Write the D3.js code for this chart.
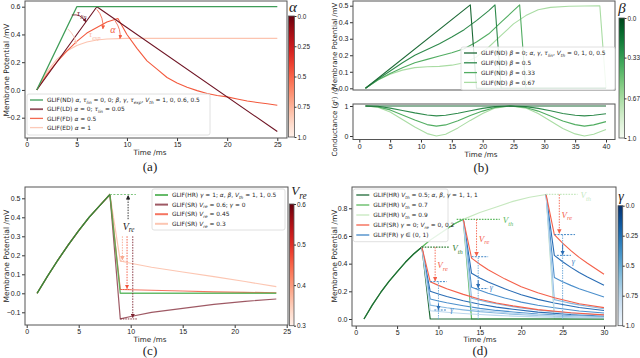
<!DOCTYPE html>
<html>
<head>
<meta charset="utf-8">
<script src="https://cdn.jsdelivr.net/npm/d3@7"></script>
<style>
  body { margin: 0; background: #fff; }
  svg { display: block; font-family: "DejaVu Sans", sans-serif; }
  .tick text { font-size: 7px; fill: #222; }
  .cb .tick text { font-size: 6.4px; }
  .tick line { stroke: #333; }
</style>
</head>
<body>
<div id="chart"></div>
<script>
// ---------- data ----------
// (a) decay variants
const aND = [[1, 0], [5, 0.6], [25, 0.6]];
const aLD = [[1, 0], [7, 0.6], [25, -0.3]];
const aFD = [[1, 0], [2, 0.11], [3, 0.2], [4, 0.28], [5, 0.35], [6, 0.41], [7, 0.45], [8, 0.49], [9.1, 0.515],
  [10, 0.4], [11, 0.3], [12, 0.21], [13, 0.15], [14, 0.09], [15, 0.05], [16, 0.02], [17, -0.005], [18, -0.025],
  [19, -0.04], [20, -0.05], [21, -0.065], [22, -0.08], [23, -0.09], [24, -0.1], [25, -0.11]];
const aED = [[1, 0], [2, 0.13], [3, 0.22], [4, 0.28], [5, 0.32], [6, 0.345], [7, 0.36], [8, 0.367], [10, 0.372], [25, 0.372]];

// (b) conductance variants, top = membrane potential, bottom = conductance
const bV0 = [[1, 0], [18, 0.505], [19, 0], [40, 0]];
const bV1 = [[1, 0], [3, 0.055], [5, 0.105], [7, 0.155], [9, 0.2], [11, 0.235], [13, 0.27], [15, 0.31], [17, 0.355],
  [19, 0.41], [21, 0.47], [22, 0.505], [23, 0], [40, 0]];
const bV2 = [[1, 0], [3, 0.05], [5, 0.09], [7, 0.125], [9, 0.155], [11, 0.175], [13, 0.195], [15, 0.215], [17, 0.24],
  [19, 0.28], [21, 0.33], [23, 0.4], [25, 0.47], [26, 0.505], [27, 0], [40, 0]];
const bV3 = [[1, 0], [3, 0.05], [5, 0.085], [7, 0.11], [9, 0.125], [11, 0.13], [13, 0.133], [15, 0.14], [17, 0.155],
  [19, 0.19], [21, 0.25], [23, 0.32], [25, 0.39], [27, 0.44], [29, 0.475], [31, 0.49], [34, 0.497], [39, 0.5], [40, 0]];
const gTimes = [1, 3, 5, 7, 9, 11, 12.5, 14, 16, 18, 20, 22, 24.5, 27, 29, 31, 33, 35, 36.5, 38, 40];
const bG0 = [1, 1, 1, 1, 1, 1, 1, 1, 1, 1, 1, 1, 1, 1, 1, 1, 1, 1, 1, 1, 1];
const bG1 = [1, 0.99, 0.93, 0.85, 0.77, 0.7, 0.67, 0.69, 0.76, 0.84, 0.92, 0.98, 1, 0.98, 0.92, 0.84, 0.75, 0.69, 0.67, 0.69, 0.74];
const bG2 = [1, 0.97, 0.87, 0.7, 0.53, 0.38, 0.33, 0.37, 0.51, 0.68, 0.83, 0.95, 1, 0.95, 0.83, 0.67, 0.5, 0.38, 0.33, 0.37, 0.48];
const bG3 = [1, 0.96, 0.8, 0.55, 0.3, 0.08, 0, 0.06, 0.27, 0.52, 0.75, 0.93, 1, 0.93, 0.75, 0.5, 0.25, 0.07, 0, 0.06, 0.22];

// (c) reset variants
const cRise = [[1, 0], [2, 0.09], [3, 0.175], [4, 0.255], [5, 0.33], [6, 0.4], [7, 0.46], [8, 0.52]];
const cHR = [[9, 0], [24, 0]];
const cSR6 = [[9, -0.135], [10, -0.122], [12, -0.1], [15, -0.079], [18, -0.058], [21, -0.042], [24, -0.03]];
const cSR45 = [[9, 0.02], [12, 0.016], [15, 0.012], [18, 0.008], [21, 0.005], [24, 0.003]];
const cSR3 = [[9, 0.17], [10, 0.158], [12, 0.137], [15, 0.112], [18, 0.088], [21, 0.062], [24, 0.035]];

// (d) threshold / reset combos
const dRise = [[1, 0], [2, 0.1], [3, 0.19], [4, 0.27], [5, 0.34], [6, 0.41], [7, 0.47], [8, 0.52], [9, 0.57],
  [10, 0.61], [11, 0.65], [12, 0.69], [13, 0.72], [15, 0.77], [17, 0.81], [19, 0.85], [21, 0.88], [23, 0.9]];
const dSpikes = [[8, 0.52], [13, 0.72], [23, 0.9]];
const dT1 = [9, 10, 11, 13, 15, 17, 19, 22, 26, 30];
const dT2 = [14, 15, 16, 18, 20, 22, 24, 27, 30];
const dT3 = [24, 25, 26, 27, 28, 30];
const dRed1 = [0.27, 0.243, 0.219, 0.178, 0.143, 0.116, 0.095, 0.068, 0.045, 0.03];
const dRed2 = [0.44, 0.396, 0.356, 0.29, 0.233, 0.189, 0.154, 0.11, 0.082];
const dRed3 = [0.61, 0.549, 0.494, 0.445, 0.403, 0.323];
const dBlue1 = [
  [0.2, 0.18, 0.162, 0.132, 0.106, 0.086, 0.07, 0.05, 0.033, 0.022],
  [0.145, 0.13, 0.117, 0.096, 0.077, 0.062, 0.051, 0.036, 0.024, 0.016],
  [0.1, 0.09, 0.081, 0.066, 0.053, 0.043, 0.035, 0.025, 0.017, 0.011],
  [0.06, 0.054, 0.049, 0.04, 0.032, 0.026, 0.021, 0.015, 0.01, 0.007]];
const dBlue2 = [
  [0.33, 0.297, 0.267, 0.218, 0.175, 0.142, 0.116, 0.083, 0.061],
  [0.23, 0.207, 0.186, 0.152, 0.122, 0.099, 0.081, 0.058, 0.043],
  [0.15, 0.135, 0.122, 0.099, 0.08, 0.065, 0.053, 0.038, 0.028],
  [0.07, 0.063, 0.057, 0.046, 0.037, 0.03, 0.025, 0.018, 0.013]];
const dBlue3 = [
  [0.46, 0.414, 0.373, 0.336, 0.304, 0.244],
  [0.3, 0.27, 0.243, 0.219, 0.198, 0.159],
  [0.14, 0.126, 0.113, 0.102, 0.092, 0.074],
  [0.05, 0.045, 0.041, 0.037, 0.033, 0.027]];
const blueShades = ['#2a6db5', '#4b8fcc', '#86b8e0', '#bcd7ee'];

const legA = ['GLIF(ND)  *α*, *τ*_lin_ = 0, 0;  *β*, *γ*, *τ*_exp_, *V*_th_ = 1, 0, 0.6, 0.5',
  'GLIF(LD)  *α* = 0;  *τ*_lin_ = 0.05', 'GLIF(FD)  *α* = 0.5', 'GLIF(ED)  *α* = 1'];
const legB = ['GLIF(ND)  *β* = 0;  *α*, *γ*, *τ*_lin_, *V*_th_ = 0, 1, 0, 0.5',
  'GLIF(ND)  *β* = 0.5', 'GLIF(ND)  *β* = 0.33', 'GLIF(ND)  *β* = 0.67'];
const legC = ['GLIF(HR)  *γ* = 1;  *α*, *β*, *V*_th_ = 1, 1, 0.5', 'GLIF(SR)  *V*_re_ = 0.6;  *γ* = 0',
  'GLIF(SR)  *V*_re_ = 0.45', 'GLIF(SR)  *V*_re_ = 0.3'];
const legD = ['GLIF(HR)  *V*_th_ = 0.5;  *α*, *β*, *γ* = 1, 1, 1', 'GLIF(HR)  *V*_th_ = 0.7', 'GLIF(HR)  *V*_th_ = 0.9',
  'GLIF(SR)  *γ* = 0;  *V*_re_ = 0, 0.2', 'GLIF(FR)  *γ* ∈ (0, 1)'];

const colA = ['#3f9d58', '#6e1424', '#f35a3e', '#fcc4b0'];
const colB = ['#1d6a37', '#2f8a4c', '#52ad62', '#a9dca3'];
const colC = ['#4caf50', '#7d2230', '#f2523a', '#fcc0aa'];
const colD = ['#1e6a36', '#5bb85e', '#c6e8bf', '#f4604a', '#3f86c6'];

// ---------- helpers ----------
const svg = d3.select('#chart').append('svg').attr('width', 640).attr('height', 358);
const defs = svg.append('defs');

function rich(text, str, fs) {
  const parts = str.split(/(\*[^*]+\*|_[^_]+_)/).filter(s => s.length);
  let sub = false;
  parts.forEach(p => {
    const ts = text.append('tspan');
    if (p[0] === '_') {
      ts.text(p.slice(1, -1)).attr('font-size', fs * 0.72).attr('dy', fs * 0.28).style('font-style', 'italic');
      sub = true;
    } else {
      ts.text(p[0] === '*' ? p.slice(1, -1) : p);
      if (p[0] === '*') ts.style('font-style', 'italic');
      if (sub) ts.attr('dy', -fs * 0.28);
      sub = false;
    }
  });
}

function axesBox(f, x, y, xt, yt, id, yfmt) {
  defs.append('clipPath').attr('id', id).append('rect')
    .attr('x', f[0]).attr('y', f[1]).attr('width', f[2] - f[0]).attr('height', f[3] - f[1]);
  if (xt) {
    svg.append('g').attr('transform', `translate(0,${f[3]})`)
      .call(d3.axisBottom(x).tickValues(xt).tickSize(3).tickPadding(1.2).tickFormat(d3.format('d')))
      .call(g => g.select('.domain').remove());
  }
  svg.append('g').attr('transform', `translate(${f[0]},0)`)
    .call(d3.axisLeft(y).tickValues(yt).tickSize(3).tickPadding(1.5).tickFormat(yfmt || d3.format('.1f')))
    .call(g => g.select('.domain').remove())
    .selectAll('text').text(d => (yfmt || d3.format('.1f'))(d).replace('-', '\u2212'));
  return svg.append('g').attr('clip-path', `url(#${id})`);
}

function frame(f) {
  svg.append('rect').attr('x', f[0]).attr('y', f[1]).attr('width', f[2] - f[0]).attr('height', f[3] - f[1])
    .attr('fill', 'none').attr('stroke', '#555').attr('stroke-width', 1);
}

function drawLine(g, pts, x, y, color, w, op) {
  g.append('path').datum(pts)
    .attr('d', d3.line().x(d => x(d[0])).y(d => y(d[1])))
    .attr('fill', 'none').attr('stroke', color).attr('stroke-width', w || 1)
    .attr('stroke-opacity', op || 1).attr('stroke-linejoin', 'round');
}

function legend(box, labels, colors, fs, rowH, widths, ops) {
  svg.append('rect').attr('x', box[0]).attr('y', box[1]).attr('width', box[2] - box[0]).attr('height', box[3] - box[1])
    .attr('rx', 2).attr('fill', '#fff').attr('fill-opacity', 0.85).attr('stroke', '#d8d8d8').attr('stroke-width', 0.8);
  labels.forEach((lab, i) => {
    const yy = box[1] + 6 + i * rowH;
    svg.append('line').attr('x1', box[0] + 3).attr('x2', box[0] + 16).attr('y1', yy).attr('y2', yy)
      .attr('stroke', colors[i]).attr('stroke-width', widths ? widths[i] : 1.3).attr('stroke-opacity', ops ? ops[i] : 1);
    const t = svg.append('text').attr('x', box[0] + 20).attr('y', yy + fs * 0.36).attr('font-size', fs).attr('fill', '#222');
    rich(t, lab, fs);
  });
}

// colorbar tick labels keep one decimal at the ends
const cbFmt = d => (d === 0 || d === 1) ? d.toFixed(1) : d3.format('.2~f')(d);

function colorbar(id, x0, y0, w, h, interp, domain, ticks, fmt) {
  const grad = defs.append('linearGradient').attr('id', id).attr('x1', 0).attr('x2', 0).attr('y1', 0).attr('y2', 1);
  d3.range(0, 1.01, 0.1).forEach(t => grad.append('stop').attr('offset', t).attr('stop-color', interp(t)));
  svg.append('rect').attr('x', x0).attr('y', y0).attr('width', w).attr('height', h)
    .attr('fill', `url(#${id})`).attr('stroke', '#555').attr('stroke-width', 0.8);
  const s = d3.scaleLinear().domain(domain).range([y0, y0 + h]);
  svg.append('g').attr('class', 'cb').attr('transform', `translate(${x0 + w},0)`)
    .call(d3.axisRight(s).tickValues(ticks).tickSize(2).tickPadding(1).tickFormat(fmt))
    .call(g => g.select('.domain').remove());
}

function label(x, y, txt, fs, rot, extra) {
  const t = svg.append('text').attr('font-size', fs).attr('fill', '#222').attr('text-anchor', 'middle')
    .attr('transform', `translate(${x},${y})${rot ? ' rotate(-90)' : ''}`);
  if (extra) extra(t);
  rich(t, txt, fs);
  return t;
}

function marker(id, color) {
  defs.append('marker').attr('id', id).attr('viewBox', '0 0 10 10').attr('refX', 9).attr('refY', 5)
    .attr('markerWidth', 5).attr('markerHeight', 5).attr('orient', 'auto-start-reverse')
    .append('path').attr('d', 'M0,0L10,5L0,10z').attr('fill', color);
}

function arrow(g, p0, p1, x, y, color, dash, mk, w) {
  g.append('line').attr('x1', x(p0[0])).attr('y1', y(p0[1])).attr('x2', x(p1[0])).attr('y2', y(p1[1]))
    .attr('stroke', color).attr('stroke-width', w || 0.9).attr('stroke-dasharray', dash || null)
    .attr('marker-end', mk ? `url(#${mk})` : null);
}

const serif = t => t.style('font-family', '"Liberation Serif", "DejaVu Serif", serif');

// ---------- (a) ----------
{
  const f = [25, 1, 287, 138];
  const x = d3.scaleLinear().domain([0, 25]).range([26.7, 277.3]);
  const y = d3.scaleLinear().domain([-0.2, 0.6]).range([117.7, 6.7]);
  const g = axesBox(f, x, y, [0, 5, 10, 15, 20, 25], [-0.2, 0, 0.2, 0.4, 0.6], 'clipA');
  drawLine(g, aED, x, y, colA[3], 1.1);
  drawLine(g, aFD, x, y, colA[2], 1.1);
  drawLine(g, aLD, x, y, colA[1], 1.1);
  drawLine(g, aND, x, y, colA[0], 1.3);
  marker('mkA1', colA[1]); marker('mkA2', colA[2]); marker('mkA3', '#f9b7a2');
  // annotation arcs
  const arc = (p0, p1, c, bend, mk) => g.append('path')
    .attr('d', `M${x(p0[0])},${y(p0[1])} Q${(x(p0[0]) + x(p1[0])) / 2 + bend[0]},${(y(p0[1]) + y(p1[1])) / 2 + bend[1]} ${x(p1[0])},${y(p1[1])}`)
    .attr('fill', 'none').attr('stroke', c).attr('stroke-width', 0.8).attr('marker-end', `url(#${mk})`);
  arc([4.5, 0.54], [5.9, 0.49], colA[1], [2, -5], 'mkA1');
  arc([7.0, 0.58], [7.6, 0.44], colA[2], [4, -2], 'mkA2');
  arc([8.8, 0.5], [9.3, 0.37], colA[2], [4, 0], 'mkA2');
  arc([4.1, 0.44], [4.9, 0.33], '#f9b7a2', [4, 0], 'mkA3');
  label(x(5.5), y(0.53), '*τ*_lin_', 8.5, false, t => serif(t).attr('fill', colA[1]));
  label(x(8.6), y(0.41), '*α*', 10, false, t => serif(t).attr('fill', colA[2]));
  label(x(6.8), y(0.38), '*τ*_exp_', 8.5, false, t => serif(t).attr('fill', '#f9b7a2'));
  frame(f);
  legend([27, 94, 210, 135], legA, colA, 5.9, 9.2, [1.3, 1.8, 1.3, 1.3], [1, 0.75, 0.9, 0.9]);
  colorbar('cbA', 288.5, 16, 6, 121, t => d3.interpolateReds(1 - t * 0.97), [0, 1], [0, 0.25, 0.5, 0.75, 1], cbFmt);
  label(293, 12, '*α*', 15, false, serif);
  label(6, 70, 'Membrane Potential /mV', 7.5, true, t => t.attr('dy', 2.5));
  label(150, 155, 'Time /ms', 7.2);
  label(150, 171, '(a)', 13, false, serif);
}

// ---------- (b) ----------
{
  const f1 = [353, 1, 615, 90];
  const f2 = [353, 104, 615, 139.5];
  const x = d3.scaleLinear().domain([0, 40]).range([359.3, 606]);
  const y1 = d3.scaleLinear().domain([0, 0.5]).range([88.3, 5.7]);
  const y2 = d3.scaleLinear().domain([0, 1]).range([136, 106]);
  const g1 = axesBox(f1, x, y1, null, [0, 0.1, 0.2, 0.3, 0.4, 0.5], 'clipB1');
  const g2 = axesBox(f2, x, y2, [0, 5, 10, 15, 20, 25, 30, 35, 40], [0, 1], 'clipB2', d3.format('d'));
  [bV3, bV2, bV1, bV0].forEach((d, i) => drawLine(g1, d, x, y1, colB[3 - i], 1.1));
  [bG3, bG2, bG1, bG0].forEach((d, i) => drawLine(g2, gTimes.map((t, j) => [t, d[j]]), x, y2, colB[3 - i], 1.1));
  frame(f1); frame(f2);
  legend([461, 47, 615, 90], legB, colB, 5.9, 9.8);
  colorbar('cbB', 619, 18, 5.5, 120, t => d3.interpolateGreens(1 - t * 0.97), [0, 1], [0, 0.33, 0.67, 1], cbFmt);
  label(622, 13, '*β*', 15, false, serif);
  label(334, 46, 'Membrane Potential /mV', 7, true, t => t.attr('dy', 2.5));
  label(334, 122, 'Conductance (*g*ᵗ) /*ĝ*', 7, true, t => t.attr('dy', 2.5));
  label(481, 156.5, 'Time /ms', 7.2);
  label(481, 172, '(b)', 13, false, serif);
}

// ---------- (c) ----------
{
  const f = [25, 187, 288, 325];
  const x = d3.scaleLinear().domain([0, 25]).range([26.7, 286.7]);
  const y = d3.scaleLinear().domain([0, 0.5]).range([293.3, 198.3]);
  const g = axesBox(f, x, y, [0, 5, 10, 15, 20, 25], [-0.1, 0, 0.1, 0.2, 0.3, 0.4, 0.5], 'clipC');
  drawLine(g, cRise.concat(cSR3), x, y, colC[3], 1.2, 0.9);
  drawLine(g, cRise.concat(cSR45), x, y, colC[2], 1.2, 0.8);
  drawLine(g, cRise.concat(cSR6), x, y, colC[1], 1.2, 0.75);
  drawLine(g, cRise.concat(cHR), x, y, colC[0], 1.4, 0.85);
  drawLine(g, cRise, x, y, '#2f7d32', 1.1, 0.8);
  marker('mkCk', '#222'); marker('mkC1', colC[1]); marker('mkC2', colC[2]); marker('mkC3', '#f8a990');
  arrow(g, [8, 0.52], [10.5, 0.52], x, y, '#7cc47c', '2,1.5', null, 1);
  arrow(g, [9.75, 0.39], [9.75, 0.515], x, y, '#222', '1.5,1.2', 'mkCk');
  arrow(g, [9.2, 0.3], [9.2, 0.175], x, y, '#f8a990', '1.5,1.2', 'mkC3');
  arrow(g, [9.65, 0.3], [9.65, 0.025], x, y, colC[2], '1.5,1.2', 'mkC2');
  arrow(g, [10.2, 0.3], [10.2, -0.128], x, y, colC[1], '1.5,1.2', 'mkC1');
  arrow(g, [9, 0.17], [9.5, 0.17], x, y, '#f8a990', '1.5,1', null);
  arrow(g, [9, 0.02], [10, 0.02], x, y, colC[2], '1.5,1', null);
  arrow(g, [9, -0.135], [10.6, -0.135], x, y, colC[1], '1.5,1', null);
  label(x(9.8), y(0.335), '*V*_re_', 10, false, serif);
  frame(f);
  legend([152, 189, 285, 230], legC, colC, 5.9, 9.6, [2, 2, 2, 2], [0.85, 0.75, 0.8, 0.9]);
  colorbar('cbC', 289.5, 204, 4.5, 121.7, t => d3.interpolateReds(1 - t * 0.97), [0.6, 0.3], [0.3, 0.4, 0.5, 0.6], d3.format('.1f'));
  label(299, 195, '*V*_re_', 13, false, serif);
  label(6, 256, 'Membrane Potential /mV', 7.5, true, t => t.attr('dy', 2.5));
  label(150, 342, 'Time /ms', 7.2);
  label(150, 355, '(c)', 13, false, serif);
}

// ---------- (d) ----------
{
  const f = [352, 187, 616, 326];
  const x = d3.scaleLinear().domain([0, 30]).range([355.7, 604]);
  const y = d3.scaleLinear().domain([0, 0.8]).range([319, 208.3]);
  const g = axesBox(f, x, y, [0, 5, 10, 15, 20, 25, 30], [0, 0.2, 0.4, 0.6, 0.8], 'clipD');
  // hard reset curves, lightest first
  drawLine(g, dRise.concat([[24, 0], [30, 0]]), x, y, colD[2], 1.1);
  drawLine(g, dRise.filter(d => d[0] <= 13).concat([[14, 0], [30, 0]]), x, y, colD[1], 1.2);
  drawLine(g, dRise.filter(d => d[0] <= 8).concat([[9, 0], [30, 0]]), x, y, colD[0], 1.2);
  // fractional resets
  [[dT1, dBlue1], [dT2, dBlue2], [dT3, dBlue3]].forEach(([ts, sets], k) => {
    sets.forEach((vals, i) => {
      drawLine(g, [dSpikes[k]].concat(ts.map((t, j) => [t, vals[j]])), x, y, blueShades[i], 1.1);
    });
  });
  // soft resets
  [[dT1, dRed1], [dT2, dRed2], [dT3, dRed3]].forEach(([ts, vals], k) => {
    drawLine(g, [dSpikes[k]].concat(ts.map((t, j) => [t, vals[j]])), x, y, colD[3], 1.1);
  });
  marker('mkDr', colD[3]); marker('mkDb', '#2a6db5');
  const thCol = ['#2e7d32', '#5bb85e', '#c6e8bf'];
  [[8, 11.3, 0.52], [12.2, 17.4, 0.72], [23, 26.8, 0.9]].forEach((d, i) => {
    arrow(g, [d[0], d[2]], [d[1], d[2]], x, y, thCol[i], '1.6,1.2', null, 1.2);
    label(x(d[1] + 1), y(d[2]) + 4, '*V*_th_', 9, false, t => serif(t).attr('fill', thCol[i]));
  });
  [[9.6, 0.52, 0.275], [14.6, 0.72, 0.455], [24.6, 0.9, 0.62]].forEach(d => {
    arrow(g, [d[0], d[1]], [d[0], d[2]], x, y, colD[3], '1.5,1.2', 'mkDr');
    label(x(d[0] + 0.9), y((d[1] + d[2]) / 2) + 4, '*V*_re_', 9, false, t => serif(t).attr('fill', colD[3]));
  });
  [[9, 11, 0.27], [14, 16, 0.45], [24, 26.5, 0.61], [9.5, 11, 0.065], [14.4, 16, 0.22], [24.3, 26, 0.46]].forEach(d =>
    arrow(g, [d[0], d[2]], [d[1], d[2]], x, y, '#3f86c6', '2,1.2', null, 1));
  [[10, 0.27], [14.8, 0.45], [25, 0.61]].forEach(d => arrow(g, [d[0], 0], [d[0], d[1]], x, y, '#6aa6d8', '1.5,1', null, 0.9));
  [[10, 0.11, 0.068, 11.6, 0.07], [14.8, 0.28, 0.225, 16.4, 0.23], [25, 0.54, 0.465, 26.3, 0.42]].forEach(d => {
    arrow(g, [d[0], d[1]], [d[0], d[2]], x, y, '#2a6db5', null, 'mkDb');
    label(x(d[3]), y(d[4]) + 3, '*γ*', 8, false, t => serif(t).attr('fill', '#3f86c6'));
  });
  frame(f);
  legend([353.3, 189, 448, 241.7], legD, colD, 5.9, 10);
  colorbar('cbD', 618, 205.7, 4.7, 120, t => d3.interpolateBlues(1 - t * 0.97), [0, 1], [0, 0.25, 0.5, 0.75, 1], cbFmt);
  label(621, 201, '*γ*', 14, false, serif);
  label(334, 256, 'Membrane Potential /mV', 7.5, true, t => t.attr('dy', 2.5));
  label(480, 342, 'Time /ms', 7.2);
  label(480, 355, '(d)', 13, false, serif);
}
</script>
</body>
</html>
